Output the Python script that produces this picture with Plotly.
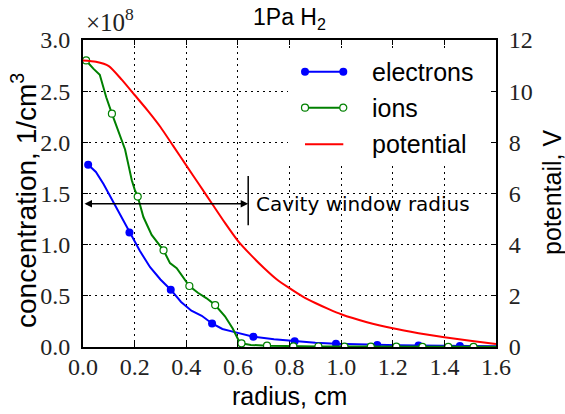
import plotly.graph_objects as go

# ---------------- data ----------------
# electrons: concentration in units of 1e8 1/cm^3
r_e = [0.02, 0.05, 0.08, 0.11, 0.14, 0.18, 0.22, 0.26, 0.30, 0.34, 0.38, 0.42, 0.46, 0.50,
       0.54, 0.58, 0.62, 0.66, 0.74, 0.82, 0.90, 0.98, 1.06, 1.14, 1.22, 1.30, 1.38, 1.46,
       1.54, 1.60]
n_e = [1.78, 1.71, 1.59, 1.45, 1.31, 1.12, 0.94, 0.78, 0.66, 0.56, 0.44, 0.355, 0.305, 0.23,
       0.176, 0.15, 0.127, 0.10, 0.075, 0.055, 0.042, 0.032, 0.025, 0.02, 0.017, 0.015, 0.012,
       0.01, 0.009, 0.008]
r_e_marked = [0.02, 0.18, 0.34, 0.50, 0.66, 0.82, 0.98, 1.14, 1.30, 1.46]

# ions: concentration in units of 1e8 1/cm^3
r_i = [0.012, 0.04, 0.065, 0.09, 0.112, 0.13, 0.15, 0.163, 0.176, 0.189, 0.20, 0.212, 0.234,
       0.266, 0.312, 0.337, 0.363, 0.39, 0.412, 0.445, 0.479, 0.512, 0.55, 0.58, 0.602, 0.614,
       0.65, 0.713, 0.815, 0.912, 1.013, 1.115, 1.214, 1.315, 1.415, 1.513, 1.60]
n_i = [2.80, 2.72, 2.66, 2.44, 2.28, 2.15, 2.02, 1.93, 1.78, 1.63, 1.54, 1.47, 1.27,
       1.095, 0.945, 0.82, 0.77, 0.68, 0.596, 0.53, 0.476, 0.41, 0.30, 0.18, 0.068, 0.036,
       0.02, 0.013, 0.007, 0.005, 0.004, 0.003, 0.003, 0.002, 0.002, 0.002, 0.002]
r_i_marked = [0.012, 0.112, 0.212, 0.312, 0.412, 0.512, 0.614, 0.713, 0.815, 0.912, 1.013,
              1.115, 1.214, 1.315, 1.415, 1.513]

# potential, V
r_p = [0.0, 0.05, 0.1, 0.15, 0.2, 0.25, 0.3, 0.35, 0.4, 0.45, 0.5, 0.55, 0.6, 0.65, 0.7,
       0.75, 0.8, 0.85, 0.9, 0.95, 1.0, 1.1, 1.2, 1.3, 1.4, 1.5, 1.6]
v_p = [11.2, 11.15, 10.98, 10.45, 9.85, 9.25, 8.6, 7.85, 7.1, 6.35, 5.6, 4.85, 4.15, 3.6,
       3.1, 2.65, 2.3, 1.98, 1.72, 1.49, 1.28, 0.97, 0.73, 0.54, 0.38, 0.24, 0.12]

x_ticks = [0.0, 0.2, 0.4, 0.6, 0.8, 1.0, 1.2, 1.4, 1.6]
y_ticks = [0.0, 0.5, 1.0, 1.5, 2.0, 2.5, 3.0]
y2_ticks = [0, 2, 4, 6, 8, 10, 12]

cavity_radius = 0.64
cavity_arrow_y = 1.40
cavity_bar = (1.19, 1.67)

legend_names = ["electrons", "ions", "potential"]

# ---------------- styling ----------------
BLUE = "#0000ff"
GREEN = "#008000"
RED = "#ff0000"
SERIF = "Liberation Serif"
SANS = "Liberation Sans"

W, H = 565, 414
ML, MR, MT, MB = 83, 69, 40, 67
PW, PH = W - ML - MR, H - MT - MB


def px_x(px):
    return (px - ML) / PW


def px_y(py):
    return (H - MB - py) / PH


e_mark_x = [r for r in r_e if r in r_e_marked]
e_mark_y = [n for r, n in zip(r_e, n_e) if r in r_e_marked]
i_mark_x = [r for r in r_i if r in r_i_marked]
i_mark_y = [n for r, n in zip(r_i, n_i) if r in r_i_marked]

fig = go.Figure()
fig.add_trace(go.Scatter(x=r_e, y=n_e, mode="lines", line=dict(color=BLUE, width=2),
                         name="electrons", showlegend=False))
fig.add_trace(go.Scatter(x=e_mark_x, y=e_mark_y, mode="markers",
                         marker=dict(color=BLUE, size=8, line=dict(width=0)),
                         showlegend=False, hoverinfo="skip"))
fig.add_trace(go.Scatter(x=r_i, y=n_i, mode="lines", line=dict(color=GREEN, width=2),
                         name="ions", showlegend=False))
fig.add_trace(go.Scatter(x=i_mark_x, y=i_mark_y, mode="markers",
                         marker=dict(color="white", size=7, line=dict(color=GREEN, width=1.2)),
                         showlegend=False, hoverinfo="skip"))
fig.add_trace(go.Scatter(x=r_p, y=v_p, mode="lines", yaxis="y2",
                         line=dict(color=RED, width=2, shape="spline", smoothing=0.6),
                         name="potential", showlegend=False))

grid_dash = "2px,4px"
axis_common = dict(showline=True, linecolor="black", linewidth=2, ticks="inside",
                   ticklen=5, tickwidth=1, tickcolor="black", zeroline=False,
                   tickfont=dict(family=SERIF, size=24, color="#222"))

fig.update_layout(
    width=W, height=H,
    margin=dict(l=ML, r=MR, t=MT, b=MB),
    paper_bgcolor="white", plot_bgcolor="white",
    showlegend=False,
    xaxis=dict(range=[0, 1.6], tickvals=x_ticks, tickformat=".1f", mirror="ticks",
               showgrid=True, gridcolor="black", gridwidth=1, griddash=grid_dash,
               ticklabelstandoff=-3, **axis_common),
    yaxis=dict(range=[0, 3], tickvals=y_ticks, tickformat=".1f", mirror="ticks",
               showgrid=True, gridcolor="black", gridwidth=1, griddash=grid_dash,
               ticklabelstandoff=6, **axis_common),
    yaxis2=dict(range=[0, 12], tickvals=y2_ticks, overlaying="y", side="right",
                showgrid=False, ticklabelstandoff=6, **axis_common),
)

annotations = []
shapes = []

# title
annotations.append(dict(text="1Pa H<sub>2</sub>", xref="paper", yref="paper",
                        x=0.5, y=px_y(19), xanchor="center", yanchor="middle",
                        showarrow=False, font=dict(family=SANS, size=23, color="black")))
# offset text
annotations.append(dict(text="×10<sup>8</sup>", xref="paper", yref="paper",
                        x=px_x(84), y=px_y(38), xanchor="left", yanchor="bottom",
                        showarrow=False, font=dict(family=SERIF, size=25, color="#222")))
# axis titles
annotations.append(dict(text="radius, cm", xref="paper", yref="paper",
                        x=0.5, y=px_y(396), xanchor="center", yanchor="middle",
                        showarrow=False, font=dict(family=SANS, size=25, color="black")))
annotations.append(dict(text="concentration, 1/cm<sup>3</sup>", xref="paper", yref="paper",
                        x=px_x(24), y=px_y(201), xanchor="center", yanchor="middle",
                        textangle=-90,
                        showarrow=False, font=dict(family=SANS, size=28, color="black")))
annotations.append(dict(text="potentail, V", xref="paper", yref="paper",
                        x=px_x(552), y=px_y(193), xanchor="center", yanchor="middle",
                        textangle=-90,
                        showarrow=False, font=dict(family=SANS, size=25, color="black")))

# cavity window arrow
annotations.append(dict(x=cavity_radius, y=cavity_arrow_y, ax=0.0, ay=cavity_arrow_y,
                        xref="x", yref="y", axref="x", ayref="y", text="",
                        showarrow=True, arrowhead=2, startarrowhead=2, arrowside="end+start",
                        arrowwidth=1.5, arrowsize=1, startarrowsize=1, arrowcolor="black",
                        standoff=0, startstandoff=0))
shapes.append(dict(type="line", xref="x", yref="y", x0=cavity_radius, x1=cavity_radius,
                   y0=cavity_bar[0], y1=cavity_bar[1], line=dict(color="black", width=1.5)))
annotations.append(dict(text="Cavity window radius", x=cavity_radius + 0.022,
                        y=cavity_arrow_y, xref="x", yref="y", xanchor="left",
                        yanchor="middle", showarrow=False,
                        font=dict(family="DejaVu Sans", size=20, color="black")))

# custom legend (matplotlib style: two markers per line)
shapes.append(dict(type="rect", xref="paper", yref="paper", x0=px_x(288), x1=px_x(490),
                   y0=px_y(166), y1=px_y(52), fillcolor="white", line=dict(width=0),
                   layer="above"))
leg_rows = [px_y(71.7), px_y(107.7), px_y(144.3)]
leg_x0, leg_x1, leg_tx = px_x(305), px_x(343.3), px_x(370)
leg_colors = [BLUE, GREEN, RED]
for k, (name, yy, col) in enumerate(zip(legend_names, leg_rows, leg_colors)):
    shapes.append(dict(type="line", xref="paper", yref="paper", x0=leg_x0, x1=leg_x1,
                       y0=yy, y1=yy, line=dict(color=col, width=2), layer="above"))
    if k < 2:
        for xx in (leg_x0, leg_x1):
            rad = 4 if k == 0 else 3.5
            shapes.append(dict(type="circle", xref="paper", yref="paper",
                               xsizemode="pixel", ysizemode="pixel",
                               xanchor=xx, yanchor=yy, x0=-rad, x1=rad, y0=-rad, y1=rad,
                               fillcolor=BLUE if k == 0 else "white",
                               line=dict(color=col, width=0 if k == 0 else 1.2),
                               layer="above"))
    annotations.append(dict(text=name, xref="paper", yref="paper", x=leg_tx, y=yy,
                            xanchor="left", yanchor="middle", showarrow=False,
                            font=dict(family=SANS, size=25, color="black")))

fig.update_layout(annotations=annotations, shapes=shapes)
fig.write_html("out.html")
